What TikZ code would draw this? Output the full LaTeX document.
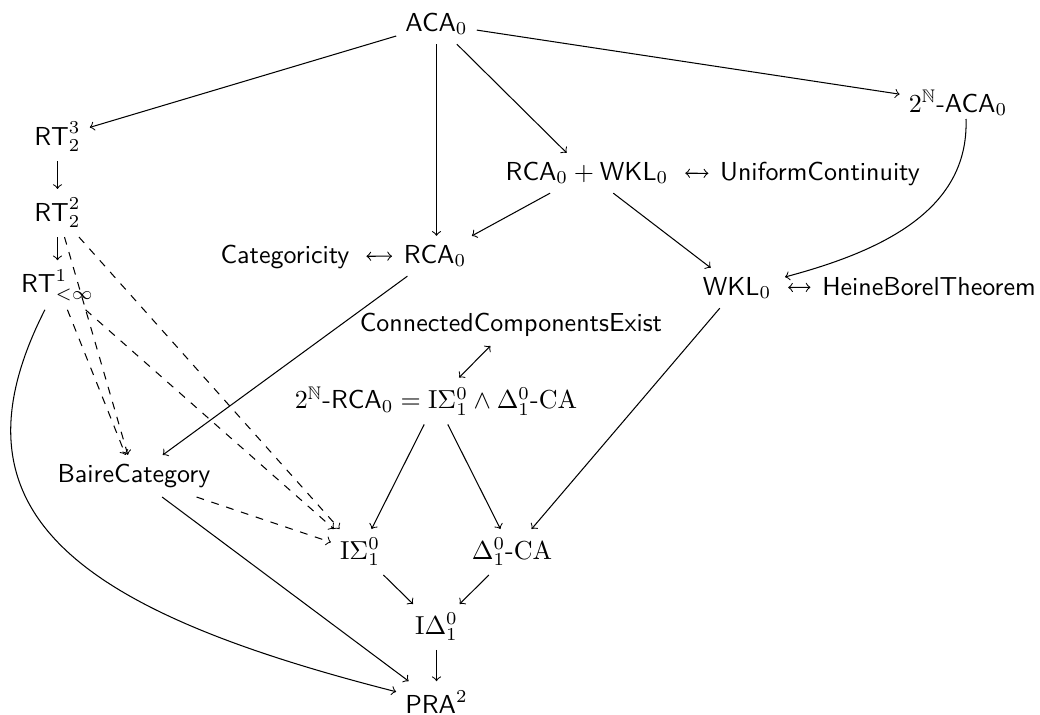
\documentclass[tikz,border=0pt]{standalone}
\usepackage{amsmath,amssymb}
\usetikzlibrary{calc}
\begin{document}
\begin{tikzpicture}[x=0.3846pt,y=-0.3846pt,>=to,every node/.style={font=\sffamily}]
\tikzset{
  imp/.style={->},
  weakimp/.style={->,dashed},
  equiv/.style={<->,shorten <=3pt,shorten >=1pt},
}
\useasboundingbox (0,0) rectangle (1040,715);
% nodes
\node (aca) at (436.5,24) {$\mathsf{ACA}_0$};
\node (naca) at (958,103) {$2^{\mathbb{N}}$-$\mathsf{ACA}_0$};
\node (rt3) at (57.5,137) {$\mathsf{RT}^3_2$};
\node (rt2) at (57.5,213) {$\mathsf{RT}^2_2$};
\node (rt1) at (57.5,285) {$\mathsf{RT}^1_{<\infty}$};
\node (rw) at (587,173) {$\mathsf{RCA}_0+\mathsf{WKL}_0$};
\node[anchor=base] (uc) at ($(rw.base)+(233,0)$) {UniformContinuity};
\node (rca) at (435,256) {$\mathsf{RCA}_0$};
\node[anchor=base] (cat) at ($(rca.base)+(-150,0)$) {Categoricity};
\node (wkl) at (737,288) {$\mathsf{WKL}_0$};
\node[anchor=base] (hb) at ($(wkl.base)+(192,0)$) {HeineBorelTheorem};
\node (cce) at (511,325) {ConnectedComponentsExist};
\node (nrca) at (436,401) {$2^{\mathbb{N}}$-$\mathsf{RCA}_0=\mathrm{I}\Sigma^0_1\wedge\Delta^0_1\text{-}\mathrm{CA}$};
\node (baire) at (134,476) {BaireCategory};
\node (isig) at (360,552) {$\mathrm{I}\Sigma^0_1$};
\node (dca) at (512,552) {$\Delta^0_1\text{-}\mathrm{CA}$};
\node (idel) at (436.5,627) {$\mathrm{I}\Delta^0_1$};
\node (pra) at (436.5,702) {$\mathsf{PRA}^2$};
\coordinate (nacaout) at (966,119);
\coordinate (wklin) at (785,277);
% connectors
\draw[equiv] (rw) -- (uc);
\draw[equiv] (cat) -- (rca);
\draw[equiv] (wkl) -- (hb);
\draw[imp] (aca) -- (rt3);
\draw[imp] (aca) -- (aca |- rca.north);
\draw[imp] (aca) -- (rw);
\draw[imp] (aca) -- (naca);
\draw[imp] (rt3) -- (rt2);
\draw[imp] (rt2) -- (rt1);
\draw[imp] (rw) -- (rca);
\draw[imp] (rw) -- (wkl);
\draw[imp] (nacaout) to[out=-88,in=15] (wklin);
\draw[imp] (rca) -- (baire);
\draw[<->] (cce) -- (nrca);
\draw[imp] (nrca) -- (isig);
\draw[imp] (nrca) -- (dca);
\draw[imp] (wkl) -- (dca);
\draw[weakimp] (rt2) -- (baire);
\draw[weakimp] (rt1) -- (baire);
\draw[weakimp] (rt2) -- (isig);
\draw[weakimp] (rt1) -- (isig);
\draw[weakimp] (baire) -- (isig);
\draw[imp] (baire) -- (pra);
\draw[imp] (rt1) .. controls (-58,512) and (75,610) .. (pra);
\draw[imp] (isig) -- (idel);
\draw[imp] (dca) -- (idel);
\draw[imp] (idel) -- (pra);
\end{tikzpicture}
\end{document}
